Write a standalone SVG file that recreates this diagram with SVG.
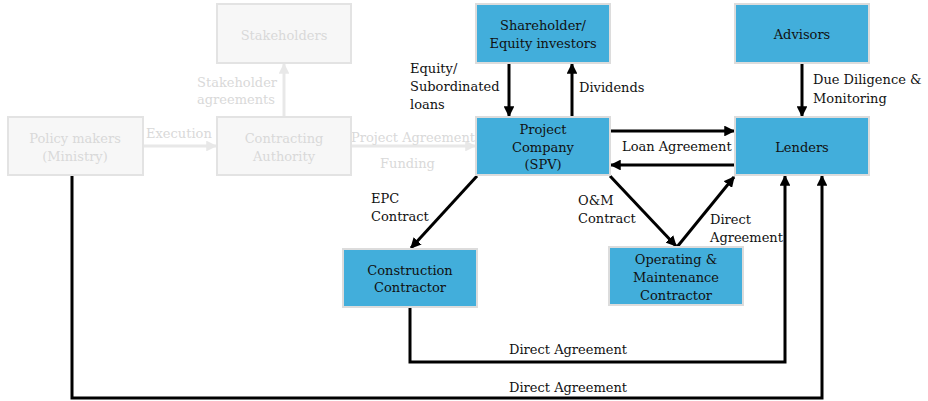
<svg xmlns="http://www.w3.org/2000/svg" width="928" height="401" viewBox="0 0 928 401">
<style>
text{font-family:"DejaVu Serif","Liberation Serif",serif;font-size:13px;fill:#111}
.nb rect{fill:#42aedb;stroke:#dcdcdc;stroke-width:2}
.ng rect{fill:#f7f7f7;stroke:#e3e3e3;stroke-width:2}
.ng text,.gl{fill:#d9d9d9}
.c text{text-anchor:middle}
.k{stroke:#000;stroke-width:3;fill:none}
.g{stroke:#e8e8e8;stroke-width:3;fill:none}
</style>
<defs>
<marker id="ab" viewBox="0 0 10 10" refX="9" refY="5" markerWidth="3.6" markerHeight="3.6" orient="auto" markerUnits="strokeWidth"><path d="M0,0L10,5L0,10z" fill="#000"/></marker>
<marker id="ag" viewBox="0 0 10 10" refX="9" refY="5" markerWidth="3.6" markerHeight="3.6" orient="auto" markerUnits="strokeWidth"><path d="M0,0L10,5L0,10z" fill="#e8e8e8"/></marker>
</defs>
<rect width="928" height="401" fill="#fff"/>
<g id="connectors">
<path class="g" d="M284,117V64" marker-end="url(#ag)"/>
<path class="g" d="M143,146H216" marker-end="url(#ag)"/>
<path class="g" d="M351,146H475" marker-end="url(#ag)"/>
<path class="k" d="M509,63V116" marker-end="url(#ab)"/>
<path class="k" d="M572,117V64" marker-end="url(#ab)"/>
<path class="k" d="M610,131H734" marker-end="url(#ab)"/>
<path class="k" d="M735,165H611" marker-end="url(#ab)"/>
<path class="k" d="M802,63V116" marker-end="url(#ab)"/>
<path class="k" d="M477,176L411,248" marker-end="url(#ab)"/>
<path class="k" d="M610,176L676,246" marker-end="url(#ab)"/>
<path class="k" d="M677,247L734,177" marker-end="url(#ab)"/>
<path class="k" d="M410,307V362H785V176" marker-end="url(#ab)"/>
<path class="k" d="M72,175V398H822V176" marker-end="url(#ab)"/>
<text class="gl" x="197" y="87">Stakeholder</text>
<text class="gl" x="197" y="104">agreements</text>
<text class="gl" x="146" y="138">Execution</text>
<text class="gl" x="351" y="142">Project Agreement</text>
<text class="gl" x="380" y="168">Funding</text>
<text x="410" y="73">Equity/</text>
<text x="410" y="91">Subordinated</text>
<text x="410" y="109">loans</text>
<text x="579" y="92">Dividends</text>
<text x="622" y="151">Loan Agreement</text>
<text x="813" y="84">Due Diligence &amp;</text>
<text x="813" y="103">Monitoring</text>
<text x="371" y="203">EPC</text>
<text x="371" y="221">Contract</text>
<text x="578" y="205">O&amp;M</text>
<text x="578" y="223">Contract</text>
<text x="710" y="224">Direct</text>
<text x="710" y="242">Agreement</text>
<text x="509" y="354">Direct Agreement</text>
<text x="509" y="392">Direct Agreement</text>
</g>
<g id="stakeholders" class="ng c"><rect x="217" y="4" width="134" height="59"/><text x="284" y="40">Stakeholders</text></g>
<g id="policy-makers" class="ng c"><rect x="8" y="117" width="135" height="58"/><text x="75" y="143">Policy makers</text><text x="75" y="161">(Ministry)</text></g>
<g id="contracting-authority" class="ng c"><rect x="217" y="117" width="134" height="58"/><text x="284" y="143">Contracting</text><text x="284" y="161">Authority</text></g>
<g id="shareholder" class="nb c"><rect x="476" y="4" width="134" height="59"/><text x="543" y="30">Shareholder/</text><text x="543" y="48">Equity investors</text></g>
<g id="advisors" class="nb c"><rect x="735" y="4" width="134" height="59"/><text x="802" y="39">Advisors</text></g>
<g id="project-company" class="nb c"><rect x="476" y="117" width="134" height="58"/><text x="543" y="134">Project</text><text x="543" y="152">Company</text><text x="543" y="169">(SPV)</text></g>
<g id="lenders" class="nb c"><rect x="735" y="117" width="134" height="58"/><text x="802" y="152">Lenders</text></g>
<g id="construction-contractor" class="nb c"><rect x="343" y="249" width="134" height="58"/><text x="410" y="275">Construction</text><text x="410" y="292">Contractor</text></g>
<g id="om-contractor" class="nb c"><rect x="609" y="247" width="134" height="58"/><text x="676" y="264">Operating &amp;</text><text x="676" y="282">Maintenance</text><text x="676" y="300">Contractor</text></g>
</svg>
